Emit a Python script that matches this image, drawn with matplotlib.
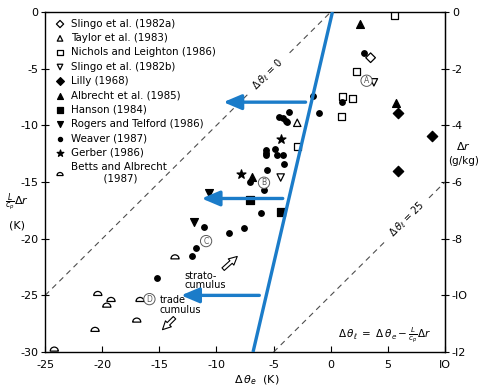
import matplotlib.pyplot as plt
import matplotlib.path as mpath
import numpy as np

# data (delta theta_e [K], L/cp delta r [K])
slingo82a = [(3.49, -4.03)]
taylor83 = [(-2.93, -9.77)]
nichols86 = [(5.6, -0.26), (2.27, -5.27), (1.04, -7.47), (1.92, -7.62), (0.96, -9.18), (-2.89, -11.89)]
slingo82b = [(3.78, -6.2), (-4.38, -14.6)]
lilly68 = [(5.86, -8.94), (8.9, -10.9), (5.86, -14.0)]
albrecht85 = [(2.6, -1.06), (5.68, -8.0), (-6.92, -14.53)]
hanson84 = [(-4.38, -17.68), (-7.1, -16.55)]
rogers86 = [(-10.62, -16.0), (-11.96, -18.5)]
weaver87 = [(2.93, -3.59), (0.98, -7.9), (-1.0, -8.9), (-1.58, -7.38), (-4.55, -9.3), (-4.15, -9.38),
            (-3.92, -9.59), (-3.8, -9.74), (-3.63, -8.85), (-5.67, -12.18), (-5.67, -12.42), (-5.67, -12.65),
            (-4.88, -12.12), (-4.68, -12.65), (-4.2, -12.65), (-4.06, -13.42), (-5.58, -13.95), (-7.06, -14.97),
            (-5.84, -15.7), (-6.13, -17.71), (-7.59, -19.04), (-11.09, -19.0), (-8.93, -19.53),
            (-11.82, -20.8), (-12.17, -21.5), (-15.18, -23.45)]
gerber86 = [(-4.38, -11.24), (-7.88, -14.3)]
betts87 = [(-13.63, -21.6), (-20.39, -24.83), (-19.23, -25.36), (-19.6, -25.86), (-16.98, -27.18),
           (-20.63, -28.0), (-24.2, -29.74), (-16.69, -25.36)]

letters = ['A', 'B', 'C', 'D']
letter_pos = [(3.14, -6.06), (-5.84, -15.06), (-10.91, -20.21), (-15.87, -25.33)]

# blue overlay: line and arrows (start, tip)
blue_line = [(0.15, 0), (-6.8, -30)]
blue_arrows = [((-2.2, -7.95), (-9.4, -7.95)), ((-4.2, -16.45), (-11.3, -16.45)), ((-6.25, -25.0), (-13.1, -25.0))]

blue = '#1b7cc9'
w = mpath.Path.wedge(0, 180)
dome = mpath.Path(w.vertices - [0, 0.5], w.codes)   # half disc, centred

fig = plt.figure(figsize=(4.8, 3.89), dpi=100)
ax = fig.add_axes([0.094, 0.095, 0.833, 0.874])

series = [
    (slingo82a, 'D', 'none', 'Slingo et al. (1982a)', 24),
    (taylor83, '^', 'none', 'Taylor et al. (1983)', 28),
    (nichols86, 's', 'none', 'Nichols and Leighton (1986)', 26),
    (slingo82b, 'v', 'none', 'Slingo et al. (1982b)', 28),
    (lilly68, 'D', 'k', 'Lilly (1968)', 28),
    (albrecht85, '^', 'k', 'Albrecht et al. (1985)', 32),
    (hanson84, 's', 'k', 'Hanson (1984)', 28),
    (rogers86, 'v', 'k', 'Rogers and Telford (1986)', 32),
    (weaver87, 'o', 'k', 'Weaver (1987)', 16),
    (gerber86, '*', 'k', 'Gerber (1986)', 45),
    (betts87, dome, 'none', 'Betts and Albrecht\n          (1987)', 34),
]
for pts, mk, fc, lab, s in series:
    pts = np.array(pts)
    ax.scatter(pts[:, 0], pts[:, 1], marker=mk, s=s, facecolors=fc, edgecolors='k',
               linewidths=0.9, label=lab, zorder=3)

leg = ax.legend(loc='upper left', frameon=False, fontsize=7.4, labelspacing=0.42,
                handletextpad=0.3, handlelength=1.6, borderaxespad=0.25, scatterpoints=1,
                markerscale=0.75)

# dashed reference lines
ax.plot([-25, -7.3], [-25, -7.3], ls=(0, (5, 4)), color='0.3', lw=0.8)
ax.plot([-3.6, 0], [-3.6, 0], ls=(0, (5, 4)), color='0.3', lw=0.8)
ax.plot([-5, 4.8], [-30, -20.2], ls=(0, (5, 4)), color='0.3', lw=0.8)
ax.plot([8.6, 10], [-16.4, -15], ls=(0, (5, 4)), color='0.3', lw=0.8)
ax.text(-5.5, -5.5, r'$\Delta\,\theta_\ell$ = 0', rotation=45, fontsize=7,
        ha='center', va='center', rotation_mode='anchor')
ax.text(6.7, -18.3, r'$\Delta\,\theta_\ell$ = 25', rotation=45, fontsize=7,
        ha='center', va='center', rotation_mode='anchor')
ax.text(0.6, -28.5, r'$\Delta\,\theta_\ell\ =\ \Delta\,\theta_e - \frac{L}{c_p}\Delta r$',
        fontsize=7.5, ha='left', va='center')

for l, (x, y) in zip(letters, letter_pos):
    ax.text(x, y, l, fontsize=5.5, color='0.35', ha='center', va='center',
            bbox=dict(boxstyle='circle,pad=0.15', fc='white', ec='0.35', lw=0.7), zorder=4)

# open arrows and labels
ax.annotate('', xy=(-8.0, -21.4), xytext=(-9.6, -22.85),
            arrowprops=dict(arrowstyle='simple,head_width=0.6,head_length=0.6,tail_width=0.25',
                            fc='white', ec='k', lw=0.8))
ax.annotate('', xy=(-14.9, -28.2), xytext=(-13.5, -26.8),
            arrowprops=dict(arrowstyle='simple,head_width=0.6,head_length=0.6,tail_width=0.25',
                            fc='white', ec='k', lw=0.8))
ax.text(-12.8, -23.7, 'strato-\ncumulus', fontsize=7, ha='left', va='center', linespacing=0.95)
ax.text(-15.0, -25.85, 'trade\ncumulus', fontsize=7, ha='left', va='center', linespacing=0.95)

# blue overlay
bl = np.array(blue_line)
ax.plot(bl[:, 0], bl[:, 1], color=blue, lw=2.4, zorder=5, solid_capstyle='butt')
for (x0, y0), (x1, y1) in blue_arrows:
    ax.annotate('', xy=(x1, y1), xytext=(x0, y0),
                arrowprops=dict(arrowstyle='-|>,head_length=0.9,head_width=0.38', color=blue,
                                lw=2.4, mutation_scale=12, shrinkA=0, shrinkB=0), zorder=6)

ax.set_xlim(-25, 10)
ax.set_ylim(-30, 0)
ax.set_xticks([-25, -20, -15, -10, -5, 0, 5, 10])
ax.set_xticklabels(['-25', '-20', '-15', '-10', '-5', '0', '5', 'IO'])
ax.set_yticks([0, -5, -10, -15, -20, -25, -30])
ax.set_yticklabels(['0', '-5', '-10', '-15', '-20', '-25', '-30'])
ax.tick_params(axis='x', direction='in', length=4, labelsize=8, pad=6)
ax.tick_params(axis='y', direction='inout', length=6, labelsize=8, pad=2)
ax.tick_params(right=False, top=False)
for sp in ax.spines.values():
    sp.set_linewidth(1.0)

sec = ax.secondary_yaxis('right', functions=(lambda y: y / 2.5, lambda r: r * 2.5))
sec.set_yticks([0, -2, -4, -6, -8, -10, -12])
sec.set_yticklabels(['0', '-2', '-4', '-6', '-8', '-IO', '-I2'])
sec.tick_params(direction='inout', length=6, labelsize=8, pad=2)

fig.text(0.036, 0.478, r'$\frac{L}{c_p}\Delta r$', fontsize=8, ha='center', va='center')
fig.text(0.036, 0.42, '(K)', fontsize=8, ha='center', va='center')
fig.text(0.965, 0.625, r'$\Delta r$', fontsize=8, ha='center', va='center')
fig.text(0.965, 0.585, '(g/kg)', fontsize=7.5, ha='center', va='center')
fig.text(0.535, 0.022, r'$\Delta\,\theta_e$  (K)', fontsize=8, ha='center', va='center')

fig.savefig('out.png', dpi=100)
